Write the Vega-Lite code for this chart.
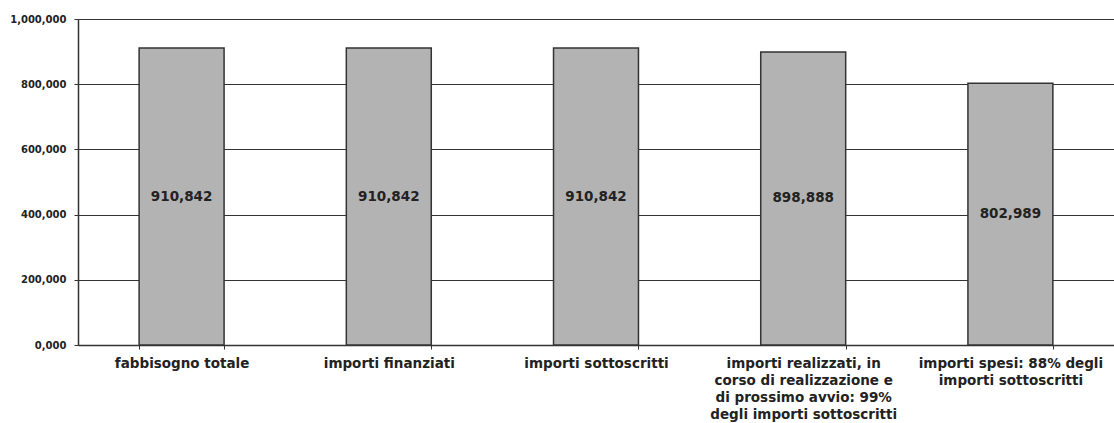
{
  "$schema": "https://vega.github.io/schema/vega-lite/v6.json",
  "autosize": {"type": "none"},
  "width": 1036,
  "height": 326,
  "padding": {"left": 78, "top": 19, "right": 0, "bottom": 78},
  "background": "white",
  "config": {
    "view": {"stroke": null},
    "font": "DejaVu Sans"
  },
  "data": {
    "values": [
      {"categoria": "fabbisogno totale", "importo": 910842},
      {"categoria": "importi finanziati", "importo": 910842},
      {"categoria": "importi sottoscritti", "importo": 910842},
      {"categoria": "importi realizzati, in corso di realizzazione e di prossimo avvio: 99% degli importi sottoscritti", "importo": 898888},
      {"categoria": "importi spesi: 88% degli importi sottoscritti", "importo": 802989}
    ]
  },
  "encoding": {
    "x": {
      "field": "categoria",
      "type": "nominal",
      "sort": null,
      "scale": {"paddingInner": 0.59, "paddingOuter": 0.295},
      "axis": {
        "title": null,
        "labelAngle": 0,
        "labelFont": "DejaVu Sans",
        "labelFontWeight": "bold",
        "labelFontSize": 13.5,
        "labelColor": "#222222",
        "labelPadding": 7,
        "labelLineHeight": 17,
        "labelLimit": 300,
        "labelExpr": "datum.label == 'importi realizzati, in corso di realizzazione e di prossimo avvio: 99% degli importi sottoscritti' ? ['importi realizzati, in', 'corso di realizzazione e', 'di prossimo avvio: 99%', 'degli importi sottoscritti'] : datum.label == 'importi spesi: 88% degli importi sottoscritti' ? ['importi spesi: 88% degli', 'importi sottoscritti'] : datum.label",
        "domainColor": "#333333",
        "domainWidth": 1.5,
        "tickBand": "extent",
        "tickColor": "#333333",
        "tickSize": 4,
        "grid": false
      }
    }
  },
  "layer": [
    {
      "mark": {"type": "bar", "color": "#b3b3b3", "stroke": "#333333", "strokeWidth": 1.5},
      "encoding": {
        "y": {
          "field": "importo",
          "type": "quantitative",
          "scale": {"domain": [0, 1000000], "nice": false},
          "axis": {
            "title": null,
            "values": [0, 200000, 400000, 600000, 800000, 1000000],
            "labelExpr": "datum.value == 0 ? '0,000' : format(datum.value, ',')",
            "labelFont": "DejaVu Sans",
            "labelFontWeight": "bold",
            "labelFontSize": 10,
            "labelColor": "#222222",
            "labelPadding": 8,
            "tickSize": 4,
            "tickColor": "#333333",
            "domainColor": "#333333",
            "domainWidth": 1.5,
            "grid": true,
            "gridColor": "#333333",
            "gridWidth": 1.2
          }
        }
      }
    },
    {
      "mark": {"type": "text", "font": "DejaVu Sans", "fontWeight": "bold", "fontSize": 13.5, "color": "#222222", "baseline": "middle"},
      "encoding": {
        "y": {
          "field": "importo",
          "type": "quantitative",
          "scale": {"domain": [0, 2000000], "nice": false},
          "axis": null
        },
        "text": {"field": "importo", "type": "quantitative", "format": ","}
      }
    }
  ],
  "resolve": {"scale": {"y": "independent"}}
}
